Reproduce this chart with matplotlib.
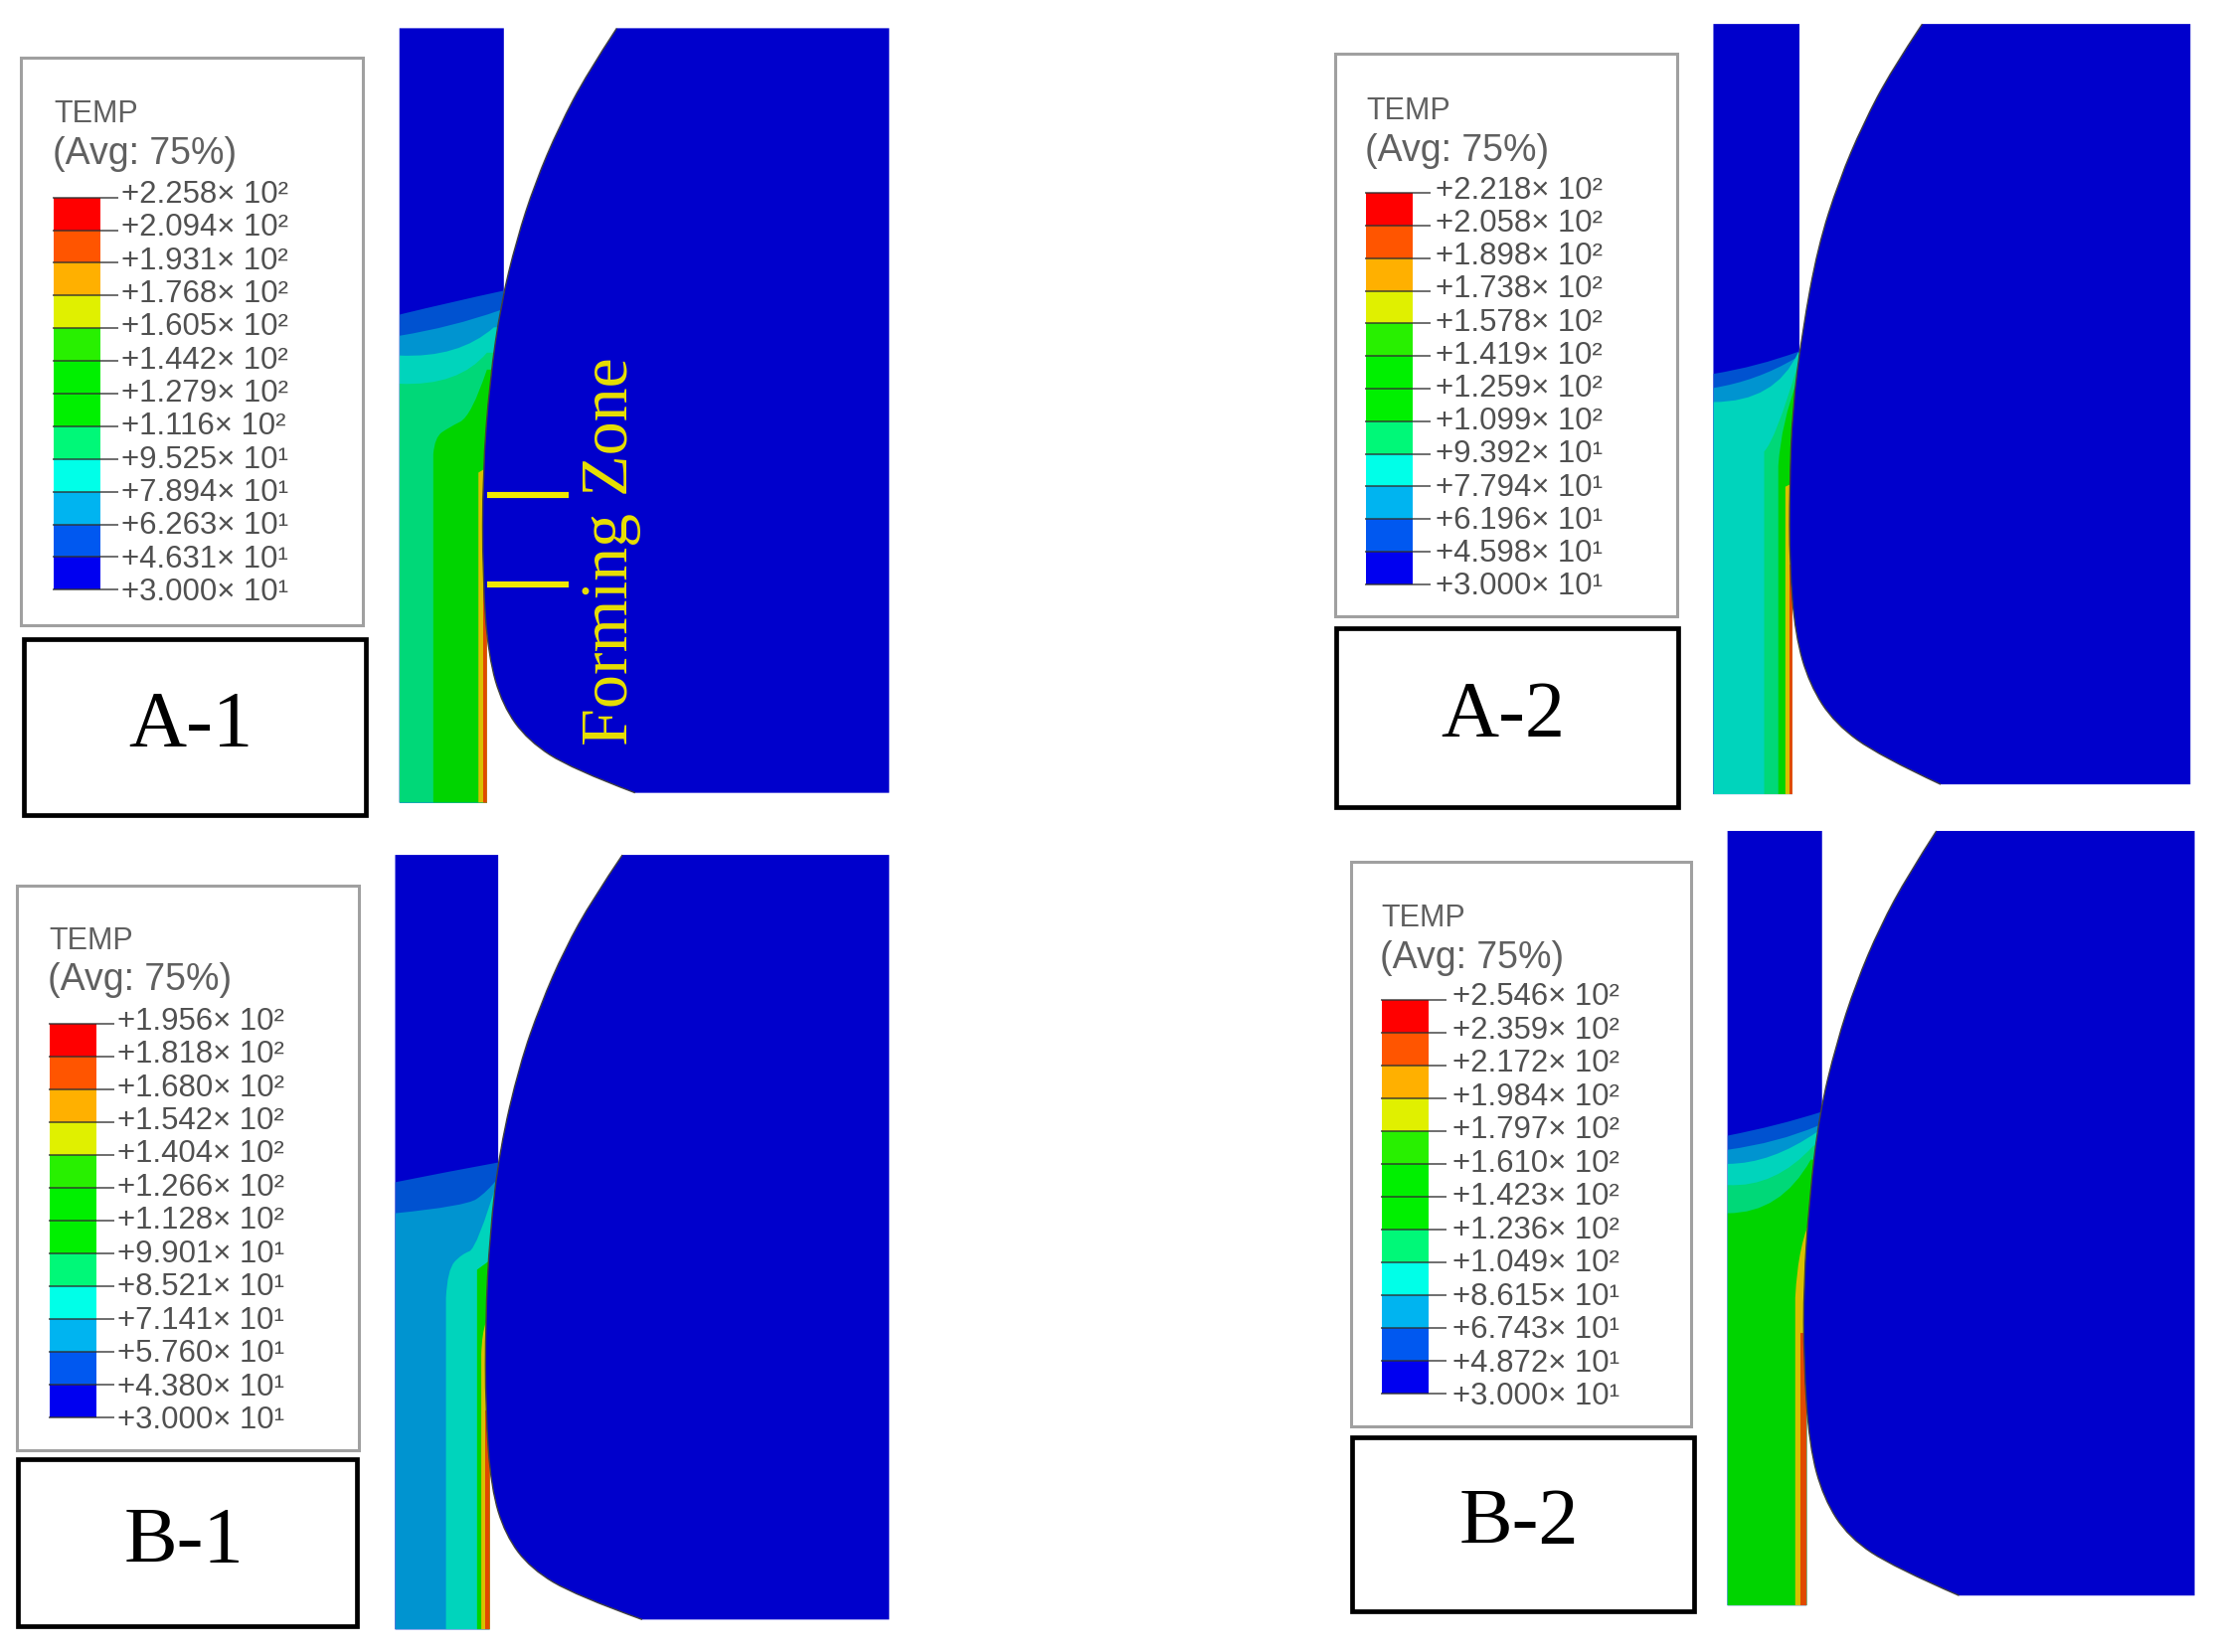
import numpy as np
import matplotlib
matplotlib.use("Agg")
import matplotlib.pyplot as plt
from matplotlib.patches import PathPatch, Polygon, Rectangle
from matplotlib.path import Path

plt.rcParams['font.family'] = ['Liberation Sans', 'DejaVu Sans']

# Legend values (deg C), top to bottom
temps_a1 = [225.8, 209.4, 193.1, 176.8, 160.5, 144.2, 127.9, 111.6, 95.25, 78.94, 62.63, 46.31, 30.00]
temps_a2 = [221.8, 205.8, 189.8, 173.8, 157.8, 141.9, 125.9, 109.9, 93.92, 77.94, 61.96, 45.98, 30.00]
temps_b1 = [195.6, 181.8, 168.0, 154.2, 140.4, 126.6, 112.8, 99.01, 85.21, 71.41, 57.60, 43.80, 30.00]
temps_b2 = [254.6, 235.9, 217.2, 198.4, 179.7, 161.0, 142.3, 123.6, 104.9, 86.15, 67.43, 48.72, 30.00]

# Abaqus contour colours, top to bottom
legend_colors = ["#ff0000", "#ff5500", "#ffb000", "#e0f000", "#28f000", "#00f000",
                 "#00f000", "#00f878", "#00ffe8", "#00b4f0", "#0058f0", "#0000f0"]

BLUE = "#0000cc"
B1, B2, TEAL, SPRING, GREEN = "#0052d0", "#0094d0", "#00d4bc", "#00d878", "#00d400"
YEL, ORG = "#d8c000", "#e04a00"

# roller outline, from top of the curve down to the flat bottom
curve_a1 = [(437, 20), (416, 52), (396, 90), (379, 130), (366, 170), (355, 215), (347, 270), (342, 335), (342, 410),
            (346, 465), (356, 500), (374, 525), (405, 545), (450, 562)]
curve_a2 = [(1362, 17), (1340, 50), (1320, 88), (1303, 128), (1288, 175), (1277, 235), (1270, 290), (1268, 345), (1268, 400),
            (1272, 450), (1282, 485), (1300, 513), (1332, 536), (1375, 556)]
curve_b1 = [(441, 606), (420, 637), (400, 673), (383, 712), (368, 755), (354, 815), (347, 875), (344, 935), (344, 1000),
            (348, 1055), (358, 1088), (376, 1112), (408, 1131), (455, 1148)]
curve_b2 = [(1372, 589), (1352, 620), (1332, 657), (1315, 697), (1301, 740), (1289, 790), (1282, 850), (1278, 910), (1278, 965),
            (1282, 1025), (1292, 1062), (1310, 1090), (1342, 1111), (1388, 1131)]

# contour layers in the plate, painted in order and clipped to the plate
layers_a1 = [(B1, [(283, 223), (320, 214), (357, 206)]),
             (B2, [(283, 238), (320, 232), (354, 220)]),
             (TEAL, [(283, 252), (325, 254), (350, 232)]),
             (SPRING, [(283, 272), (325, 274), (345, 250)]),
             (GREEN, [(307, 322), (308, 310), (318, 303), (334, 295), (345, 262)]),
             (YEL, [(339, 335), (352, 300)]),
             (ORG, [(342, 415), (352, 415)])]
layers_a2 = [(B1, [(1214, 265), (1245, 260), (1275, 249)]),
             (B2, [(1214, 275), (1245, 270), (1272, 254)]),
             (TEAL, [(1214, 285), (1258, 285), (1274, 250)]),
             (SPRING, [(1250, 320), (1258, 312), (1274, 258)]),
             (GREEN, [(1260, 330), (1262, 300), (1274, 268)]),
             (YEL, [(1265, 345), (1274, 320)]),
             (ORG, [(1268, 400), (1274, 400)])]
layers_b1 = [(B1, [(280, 838), (320, 830), (353, 824)]),
             (B2, [(280, 860), (330, 855), (345, 845), (353, 835)]),
             (TEAL, [(316, 920), (317, 900), (327, 889), (338, 885), (353, 835)]),
             (GREEN, [(338, 900), (350, 860)]),
             (YEL, [(341, 960), (342, 930), (352, 930)]),
             (ORG, [(344, 1000), (352, 1000)])]
layers_b2 = [(B1, [(1224, 805), (1260, 798), (1291, 788)]),
             (B2, [(1224, 815), (1260, 810), (1288, 798)]),
             (TEAL, [(1224, 825), (1255, 825), (1288, 802)]),
             (SPRING, [(1224, 840), (1258, 842), (1285, 812)]),
             (GREEN, [(1224, 860), (1262, 860), (1283, 822)]),
             (YEL, [(1272, 920), (1274, 880), (1285, 860)]),
             (ORG, [(1276, 945), (1285, 945)])]

panels = [
    dict(name="A-1", temps=temps_a1, curve=curve_a1, layers=layers_a1,
         legend=(15, 41, 257, 443), label=(17, 453, 259, 578), bar=(38, 71, 140, 418), lab_x=86, temp_y=81,
         plate=(283, 357, 345, 20, 569, 205, 420), right=630, flat=562),
    dict(name="A-2", temps=temps_a2, curve=curve_a2, layers=layers_a2,
         legend=(946, 38, 1188, 437), label=(947, 445, 1189, 572), bar=(968, 1001, 137, 414), lab_x=1017, temp_y=79,
         plate=(1214, 1275, 1270, 17, 563, 245, 410), right=1552, flat=556),
    dict(name="B-1", temps=temps_b1, curve=curve_b1, layers=layers_b1,
         legend=(12, 628, 254, 1028), label=(13, 1034, 253, 1153), bar=(35, 68, 726, 1005), lab_x=83, temp_y=667,
         plate=(280, 353, 347, 606, 1155, 825, 1010), right=630, flat=1148),
    dict(name="B-2", temps=temps_b2, curve=curve_b2, layers=layers_b2,
         legend=(957, 611, 1198, 1011), label=(958, 1019, 1200, 1142), bar=(979, 1012, 709, 988), lab_x=1029, temp_y=651,
         plate=(1224, 1291, 1280, 589, 1138, 785, 950), right=1555, flat=1131),
]


def smooth(pts):
    # quadratic spline through the midpoints of the control points
    verts, codes = [pts[0]], [Path.MOVETO]
    for i in range(1, len(pts) - 1):
        if i < len(pts) - 2:
            end = ((pts[i][0] + pts[i + 1][0]) / 2, (pts[i][1] + pts[i + 1][1]) / 2)
        else:
            end = pts[i + 1]
        verts += [pts[i], end]
        codes += [Path.CURVE3, Path.CURVE3]
    return verts, codes


def sci_label(v):
    exp = int(np.floor(np.log10(v)))
    sup = {1: "\u00b9", 2: "\u00b2"}[exp]
    return "+{:.3f}\u00d7 10{}".format(v / 10 ** exp, sup)


fig = plt.figure(figsize=(11.13, 8.31), dpi=200)
ax = fig.add_axes([0, 0, 1, 1])
ax.set_xlim(0, 1568)
ax.set_ylim(1171, 0)
ax.axis("off")

for p in panels:
    # legend box
    x0, y0, x1, y1 = p["legend"]
    ax.add_patch(Rectangle((x0, y0), x1 - x0, y1 - y0, fc="white", ec="#a0a0a0", lw=1.1))
    bx0, bx1, by0, by1 = p["bar"]
    ax.text(bx0, p["temp_y"], "TEMP", fontsize=11, color="#606060", va="center")
    ax.text(bx0 - 1, p["temp_y"] + 28, "(Avg: 75%)", fontsize=13.5, color="#606060", va="center")
    edges = np.linspace(by0, by1, len(p["temps"]))
    label_y = np.linspace(by0 - 2, by1 + 2, len(p["temps"]))
    for i, c in enumerate(legend_colors):
        ax.add_patch(Rectangle((bx0, edges[i]), bx1 - bx0, edges[i + 1] - edges[i], fc=c, ec="none"))
    for y, ly, v in zip(edges, label_y, p["temps"]):
        ax.plot([bx0, bx1 + 12], [y, y], color="#303030", lw=0.7, alpha=0.7)
        ax.text(p["lab_x"], ly, sci_label(v), fontsize=11.2, color="#505050", va="center")

    # sample label box
    x0, y0, x1, y1 = p["label"]
    ax.add_patch(Rectangle((x0, y0), x1 - x0, y1 - y0, fc="white", ec="black", lw=1.7))
    ax.text((x0 + x1) / 2 - 3, (y0 + y1) / 2, p["name"], family="Liberation Serif", fontsize=29,
            color="black", ha="center", va="center")

    # plate with contour bands
    left, top_r, low_r, top, bottom, contact, low = p["plate"]
    plate = Polygon([(left, top), (top_r, top), (top_r, contact), (low_r, low), (low_r, bottom), (left, bottom)],
                    closed=True, fc=BLUE, ec="none")
    ax.add_patch(plate)
    for color, pts in p["layers"]:
        if pts[0][0] == left:
            poly = [(left, bottom)] + pts
        else:
            poly = [(pts[0][0], bottom)] + pts
        poly += [(top_r + 40, pts[-1][1]), (top_r + 40, bottom)]
        verts, codes = smooth(poly[1:-2])
        verts = [poly[0]] + verts + poly[-2:] + [poly[0]]
        codes = [Path.MOVETO, Path.LINETO] + codes[1:] + [Path.LINETO, Path.LINETO, Path.CLOSEPOLY]
        band = PathPatch(Path(verts, codes), fc=color, ec="none")
        ax.add_patch(band)
        band.set_clip_path(plate)

    # roller on top
    verts, codes = smooth(p["curve"])
    last = p["curve"][-1]
    first = p["curve"][0]
    rv = verts + [(p["right"], last[1]), (p["right"], first[1]), first]
    rc = codes + [Path.LINETO, Path.LINETO, Path.CLOSEPOLY]
    ax.add_patch(PathPatch(Path(rv, rc), fc=BLUE, ec="none"))
    ax.add_patch(PathPatch(Path(verts, codes), fc="none", ec="#404040", lw=0.5))

# forming zone note on A-1
for y in (351, 414):
    ax.plot([345, 403], [y, y], color="#f0e800", lw=2.2, solid_capstyle="butt")
ax.text(433, 391, "Forming Zone", family="Liberation Serif", fontsize=24.5, color="#e8e000",
        rotation=90, ha="center", va="center")

fig.savefig("out.png", dpi=200)
